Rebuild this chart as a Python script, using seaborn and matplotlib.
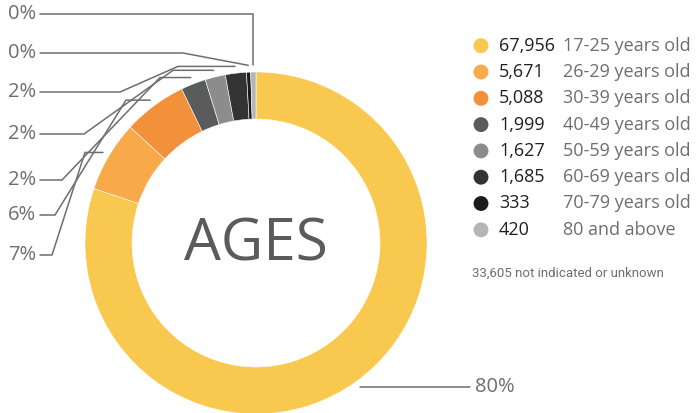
import matplotlib
matplotlib.use('Agg')
import matplotlib.pyplot as plt
import seaborn as sns
import pandas as pd
import numpy as np

# Dados
age_groups = ['17-25 years old', '26-29 years old', '30-39 years old', '40-49 years old',
              '50-59 years old', '60-69 years old', '70-79 years old', '80 and above']
counts = [67956, 5671, 5088, 1999, 1627, 1685, 333, 420]
colors = ['#F9C84E', '#F8AA4A', '#F3903A', '#5A5B5B', '#8C8C8C', '#333333', '#1E1A1B', '#B5B5B5']
not_indicated = 33605
center_title = 'AGES'

W, H = 697, 413
GRAY_TXT = '#6D6E71'
LINE = '#6D6E71'

sns.set_theme(style='white')
plt.rcParams['font.family'] = ['Open Sans', 'DejaVu Sans']

fig = plt.figure(figsize=(W / 100, H / 100), dpi=100)
ax = fig.add_axes([0, 0, 1, 1])

# Donut em coordenadas de pixel (eixo y invertido)
cx, cy, R = 256, 243, 171
wedges, _ = ax.pie(counts, colors=sns.color_palette(colors), startangle=-90, counterclock=True,
                   center=(cx, cy), radius=R, frame=True,
                   wedgeprops=dict(width=R * 0.275, edgecolor='white', linewidth=0.4))
ax.set_xlim(0, W)
ax.set_ylim(H, 0)
ax.axis('off')

ax.text(cx, cy + 2, center_title, ha='center', va='center', fontsize=42, color='#5D5A5B')

total = sum(counts)
pcts = [c / total * 100 for c in counts]

def anchor(w, k=1.04):
    a = np.deg2rad((w.theta1 + w.theta2) / 2)
    return cx + R * k * np.cos(a), cy + R * k * np.sin(a)

# 80% à direita
x0, y0 = anchor(wedges[0])
ax.plot([x0, 470], [y0, y0], color=LINE, lw=1.1)
ax.text(475, y0, f'{round(pcts[0])}%', ha='left', va='center', fontsize=14.5, color=GRAY_TXT)

# Rótulos à esquerda (layout das linhas guia)
knee_x = [85, 126, 160, 173, 178, None, None]
label_y = [255, 215, 180, 134, 92, 53, 14]
line_end_x = [52, 55, 62, 84, 120, 183, None]
for i in range(1, len(counts)):
    j = i - 1
    ex, ey = anchor(wedges[i])
    kx = knee_x[j] if knee_x[j] is not None else ex
    lx = line_end_x[j] if line_end_x[j] is not None else ex
    ax.plot([ex, kx, lx, 40], [ey, ey, label_y[j], label_y[j]], color=LINE, lw=1.1,
            solid_joinstyle='miter')
    ax.text(36, label_y[j], f'{round(pcts[i])}%', ha='right', va='center', fontsize=14.5,
            color=GRAY_TXT)

# Legenda
leg = pd.DataFrame({'x': [481] * len(counts), 'y': 45.7 + np.arange(len(counts)) * 26.3,
                    'grupo': age_groups})
sns.scatterplot(data=leg, x='x', y='y', hue='grupo', palette=colors, s=115,
                edgecolor='none', legend=False, ax=ax)
for y, c, g in zip(leg['y'], counts, age_groups):
    ax.text(499, y, f'{c:,}', ha='left', va='center', fontsize=13, color='#231F20',
            fontweight='medium')
    ax.text(563, y, g, ha='left', va='center', fontsize=13, color=GRAY_TXT)

ax.text(472, 273, f'{not_indicated:,} not indicated or unknown', ha='left', va='center',
        fontsize=9.5, color=GRAY_TXT, family=['Roboto', 'DejaVu Sans'])

ax.set_xlim(0, W)
ax.set_ylim(H, 0)
fig.savefig('out.png', dpi=100, facecolor='white')
